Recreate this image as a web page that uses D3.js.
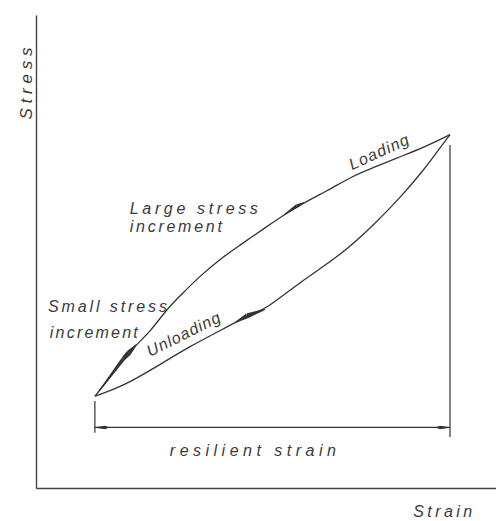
<!DOCTYPE html>
<html>
<head>
<meta charset="utf-8">
<script src="https://cdn.jsdelivr.net/npm/d3@7"></script>
<style>
  body { margin: 0; background: #fff; }
  svg { display: block; }
  text { font-family: "Liberation Sans", Arial, sans-serif; font-style: italic; fill: #3a3a3a; }
</style>
</head>
<body>
<svg width="496" height="521"></svg>
<script>
  // loading branch, from start point up to peak (strain, stress in arbitrary units)
  const loadStrain = [1.28, 1.61, 1.89, 2.15, 2.48, 2.85, 3.13, 3.57, 4.07, 4.43, 4.87, 5.67, 6.33, 6.89, 7.33, 7.85, 8.41, 9.00];
  const loadStress = [1.94, 2.34, 2.72, 3.00, 3.30, 3.79, 4.06, 4.49, 4.89, 5.13, 5.43, 5.96, 6.28, 6.60, 6.77, 6.98, 7.19, 7.47];

  // unloading branch, from peak back down to start point
  const unloadStrain = [9.00, 8.78, 8.41, 7.91, 7.33, 6.61, 5.74, 5.02, 4.59, 4.07, 3.35, 2.63, 1.89, 1.28];
  const unloadStress = [7.47, 7.19, 6.70, 6.13, 5.55, 4.91, 4.36, 3.79, 3.64, 3.36, 3.00, 2.57, 2.15, 1.94];

  const dimStress = 1.28;          // level of the resilient strain dimension line
  const axisLabels = ['Strain', 'Stress'];

  const svg = d3.select('svg');
  const ink = '#333';

  const x = d3.scaleLinear().domain([0, 10]).range([36, 496]);
  const y = d3.scaleLinear().domain([0, 10]).range([488, 15]);

  // axes: only the domain lines
  svg.append('g')
      .attr('transform', `translate(0,${y(0)})`)
      .call(d3.axisBottom(x).tickValues([]).tickSizeOuter(0))
      .attr('color', '#444')
      .select('.domain').attr('stroke-width', 1.4);
  svg.append('g')
      .attr('transform', `translate(${x(0)},0)`)
      .call(d3.axisLeft(y).tickValues([]).tickSizeOuter(0))
      .attr('color', '#444')
      .select('.domain').attr('stroke-width', 1.4);

  const line = d3.line()
      .x(d => x(d[0]))
      .y(d => y(d[1]))
      .curve(d3.curveBasis);

  const loading = d3.zip(loadStrain, loadStress);
  const unloading = d3.zip(unloadStrain, unloadStress);

  svg.append('path').datum(loading)
      .attr('d', line).attr('fill', 'none')
      .attr('stroke', ink).attr('stroke-width', 1.3);
  svg.append('path').datum(unloading)
      .attr('d', line).attr('fill', 'none')
      .attr('stroke', ink).attr('stroke-width', 1.3);

  // tapered filled mark between two data points
  const wedge = (p0, p1, w0, w1) => {
    const x0 = x(p0[0]), y0 = y(p0[1]), x1 = x(p1[0]), y1 = y(p1[1]);
    const len = Math.hypot(x1 - x0, y1 - y0);
    const nx = -(y1 - y0) / len, ny = (x1 - x0) / len;
    const pts = [
      [x0 + nx * w0, y0 + ny * w0],
      [x1 + nx * w1, y1 + ny * w1],
      [x1 - nx * w1, y1 - ny * w1],
      [x0 - nx * w0, y0 - ny * w0]
    ];
    svg.append('path')
        .attr('d', 'M' + pts.join('L') + 'Z')
        .attr('fill', ink);
  };

  const lerp = (a, b, t) => [a[0] + (b[0] - a[0]) * t, a[1] + (b[1] - a[1]) * t];

  // small stress increment: thick stroke over the first part of loading
  const smallTop = lerp(loading[2], loading[3], 0.5);
  wedge(lerp(loading[0], loading[1], 0.3), loading[2], 0.6, 1.9);
  wedge(loading[2], smallTop, 1.9, 2.6);
  wedge(smallTop, lerp(loading[3], loading[4], 0.1), 2.6, 0.6);

  // direction arrows on the two branches
  wedge(lerp(loading[10], loading[11], 0.65), loading[11], 0.4, 1.8);
  wedge(lerp(loading[11], loading[12], 0.0), lerp(loading[11], loading[12], 0.25), 1.8, 0.4);
  wedge(lerp(unloading[8], unloading[7], 0.9), unloading[8], 0.5, 2.5);
  wedge(unloading[8], lerp(unloading[8], unloading[9], 0.5), 2.5, 0.5);

  // resilient strain dimension
  const s0 = loadStrain[0], s1 = loadStrain[loadStrain.length - 1];
  const dim = svg.append('g').attr('stroke', ink).attr('stroke-width', 1.2);
  dim.append('line')
      .attr('x1', x(s0)).attr('x2', x(s1))
      .attr('y1', y(dimStress)).attr('y2', y(dimStress));
  dim.append('line')
      .attr('x1', x(s0)).attr('x2', x(s0))
      .attr('y1', y(loadStress[0] - 0.1)).attr('y2', y(dimStress - 0.11));
  dim.append('line')
      .attr('x1', x(s1)).attr('x2', x(s1))
      .attr('y1', y(loadStress[loadStress.length - 1] - 0.22)).attr('y2', y(dimStress - 0.2));
  wedge([s0, dimStress], [s0 + 0.22, dimStress], 0.3, 1.8);
  wedge([s0 + 0.22, dimStress], [s0 + 0.3, dimStress], 1.8, 0.3);
  wedge([s1, dimStress], [s1 - 0.22, dimStress], 0.3, 1.8);
  wedge([s1 - 0.22, dimStress], [s1 - 0.3, dimStress], 1.8, 0.3);

  // labels
  const label = (txt, sx, sy, len, angle, size) => {
    const px = x(sx), py = y(sy);
    svg.append('text')
        .attr('transform', `translate(${px},${py}) rotate(${angle})`)
        .attr('font-size', size)
        .attr('textLength', len)
        .attr('lengthAdjust', 'spacing')
        .text(txt);
  };

  label('Large stress', 2.04, 5.79, 128, 0, 16);
  label('increment', 2.04, 5.41, 92, 0, 16);
  label('Small stress', 0.26, 3.72, 119, 0, 16);
  label('increment', 0.30, 3.17, 88, 0, 16);
  label('Unloading', 2.48, 2.77, 80, -26.6, 16);
  label('Loading', 6.87, 6.72, 64, -24.6, 16);
  label('resilient strain', 2.91, 0.68, 166, 0, 16);
  label(axisLabels[0], 8.2, -0.62, 59, 0, 16);
  label(axisLabels[1], -0.09, 7.79, 72, -90, 17);
</script>
</body>
</html>
